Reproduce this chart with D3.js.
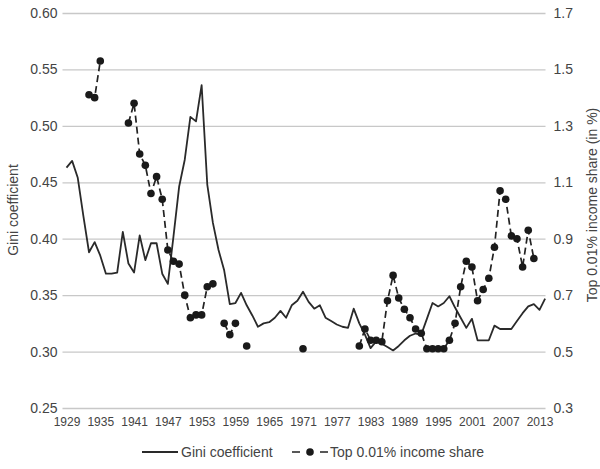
<!DOCTYPE html>
<html>
<head>
<meta charset="utf-8">
<script src="https://cdn.jsdelivr.net/npm/d3@7"></script>
<style>
  body { margin: 0; background: #fff; }
  svg text { font-family: "Liberation Sans", Arial, sans-serif; fill: #444; }
</style>
</head>
<body>
<script>
// years on the category axis
const years = d3.range(1929, 2015);

// Gini coefficient, 1929-2014
const gini = [
  0.463, 0.469, 0.454, 0.420, 0.388, 0.397, 0.385, 0.369, 0.369, 0.370,
  0.406, 0.378, 0.370, 0.403, 0.381, 0.396, 0.396, 0.369, 0.360, 0.402,
  0.446, 0.470, 0.508, 0.504, 0.536, 0.448, 0.414, 0.390, 0.372, 0.342,
  0.343, 0.352, 0.341, 0.332, 0.322, 0.325, 0.326, 0.330, 0.336, 0.330,
  0.341, 0.345, 0.353, 0.344, 0.338, 0.341, 0.330, 0.327, 0.324, 0.322,
  0.321, 0.338, 0.325, 0.315, 0.303, 0.309, 0.307, 0.304, 0.301, 0.305,
  0.310, 0.314, 0.316, 0.315, 0.329, 0.343, 0.340, 0.343, 0.349, 0.339,
  0.330, 0.321, 0.329, 0.310, 0.310, 0.310, 0.323, 0.320, 0.320, 0.320,
  0.327, 0.334, 0.340, 0.342, 0.337, 0.347
];

// Top 0.01% income share (in %), only for years with data
const topYears = [
  1933, 1934, 1935, 1940, 1941, 1942, 1943, 1944, 1945, 1946,
  1947, 1948, 1949, 1950, 1951, 1952, 1953, 1954, 1955, 1957,
  1958, 1959, 1961, 1971, 1981, 1982, 1983, 1984, 1985, 1986,
  1987, 1988, 1989, 1990, 1991, 1992, 1993, 1994, 1995, 1996,
  1997, 1998, 1999, 2000, 2001, 2002, 2003, 2004, 2005, 2006,
  2007, 2008, 2009, 2010, 2011, 2012
];
const topShare = [
  1.41, 1.40, 1.53, 1.31, 1.38, 1.20, 1.16, 1.06, 1.12, 1.04,
  0.86, 0.82, 0.81, 0.70, 0.62, 0.63, 0.63, 0.73, 0.74, 0.60,
  0.56, 0.60, 0.52, 0.51, 0.52, 0.58, 0.54, 0.54, 0.535, 0.68,
  0.77, 0.69, 0.65, 0.62, 0.58, 0.565, 0.51, 0.51, 0.51, 0.51,
  0.54, 0.60, 0.73, 0.82, 0.80, 0.68, 0.72, 0.76, 0.87, 1.07,
  1.04, 0.91, 0.90, 0.80, 0.93, 0.83
];

const leftTicks = [0.25, 0.30, 0.35, 0.40, 0.45, 0.50, 0.55, 0.60];
const rightTicks = [0.3, 0.5, 0.7, 0.9, 1.1, 1.3, 1.5, 1.7];
const yearTicks = d3.range(1929, 2014, 6);

const width = 600,
  height = 469,
  plot = { left: 62.5, right: 545.5, top: 13, bottom: 408 };

const svg = d3.select("body")
  .append("svg")
  .attr("width", width)
  .attr("height", height);

const x = d3.scaleLinear().domain([1929, 2013]).range([66.5, 539.5]);
const yL = d3.scaleLinear().domain([0.25, 0.6]).range([plot.bottom, plot.top]);
const yR = d3.scaleLinear().domain([0.3, 1.7]).range([plot.bottom, plot.top]);

// gridlines + left labels
const leftAxis = svg.append("g")
  .attr("transform", `translate(${plot.left},0)`)
  .call(d3.axisLeft(yL)
    .tickValues(leftTicks)
    .tickFormat(d3.format(".2f"))
    .tickSize(-(plot.right - plot.left))
    .tickPadding(5));
leftAxis.select(".domain").remove();
leftAxis.selectAll("line").attr("stroke", "#c8c8c8").attr("stroke-width", 1.3);
leftAxis.selectAll("text").style("font-size", "14px").attr("fill", "#444");

const rightAxis = svg.append("g")
  .attr("transform", `translate(${plot.right},0)`)
  .call(d3.axisRight(yR)
    .tickValues(rightTicks)
    .tickFormat(d3.format(".1f"))
    .tickSize(0)
    .tickPadding(8));
rightAxis.select(".domain").remove();
rightAxis.selectAll("text").style("font-size", "14px").attr("fill", "#444");

const xAxis = svg.append("g")
  .attr("transform", `translate(0,${plot.bottom})`)
  .call(d3.axisBottom(x)
    .tickValues(yearTicks)
    .tickFormat(d3.format("d"))
    .tickSize(0)
    .tickPadding(9));
xAxis.select(".domain").remove();
xAxis.selectAll("text").style("font-size", "12px").attr("fill", "#444");

// axis titles
svg.append("text")
  .attr("transform", "translate(18,210) rotate(-90)")
  .attr("text-anchor", "middle")
  .style("font-size", "14px")
  .text("Gini coefficient");

svg.append("text")
  .attr("transform", "translate(597,205) rotate(-90)")
  .attr("text-anchor", "middle")
  .style("font-size", "14px")
  .text("Top 0.01% income share (in %)");

// Gini line
const giniLine = d3.line()
  .x((d, i) => x(years[i]))
  .y(d => yL(d));

svg.append("path")
  .datum(gini)
  .attr("fill", "none")
  .attr("stroke", "#2a2a2a")
  .attr("stroke-width", 1.8)
  .attr("stroke-linejoin", "round")
  .attr("d", giniLine);

// top share: dashed line with gaps where years are missing
const topByYear = new Map(topYears.map((yr, i) => [yr, topShare[i]]));
const topSeries = years.map(yr => ({ year: yr, value: topByYear.has(yr) ? topByYear.get(yr) : null }));

const topLine = d3.line()
  .defined(d => d.value !== null)
  .x(d => x(d.year))
  .y(d => yR(d.value));

svg.append("path")
  .datum(topSeries)
  .attr("fill", "none")
  .attr("stroke", "#222")
  .attr("stroke-width", 1.7)
  .attr("stroke-dasharray", "7,4")
  .attr("d", topLine);

svg.append("g")
  .selectAll("circle")
  .data(topYears)
  .enter()
  .append("circle")
  .attr("cx", d => x(d))
  .attr("cy", (d, i) => yR(topShare[i]))
  .attr("r", 3.8)
  .attr("fill", "#1a1a1a");

// legend
const legend = svg.append("g").attr("transform", "translate(0,452)");

legend.append("line")
  .attr("x1", 142).attr("x2", 178)
  .attr("stroke", "#2a2a2a").attr("stroke-width", 1.8);
legend.append("text")
  .attr("x", 181).attr("y", 5)
  .style("font-size", "14px")
  .text("Gini coefficient");

legend.append("line")
  .attr("x1", 292).attr("x2", 328)
  .attr("stroke", "#222").attr("stroke-width", 1.7)
  .attr("stroke-dasharray", "8,20,8");
legend.append("circle")
  .attr("cx", 310).attr("cy", 0).attr("r", 3.8)
  .attr("fill", "#1a1a1a");
legend.append("text")
  .attr("x", 330).attr("y", 5)
  .style("font-size", "14px")
  .text("Top 0.01% income share");
</script>
</body>
</html>
